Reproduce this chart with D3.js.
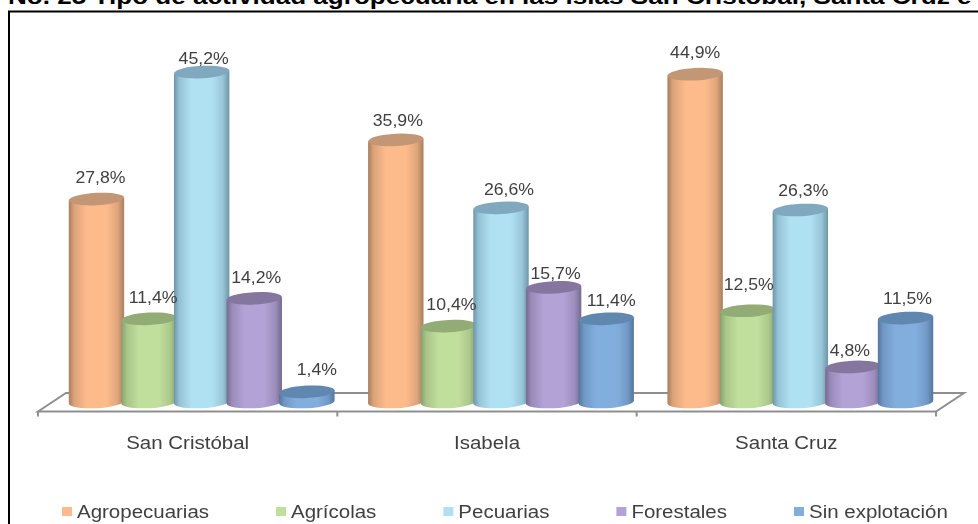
<!DOCTYPE html>
<html><head><meta charset="utf-8">
<script src="https://cdn.jsdelivr.net/npm/d3@7"></script>
<style>html,body{margin:0;padding:0;background:#fff;overflow:hidden}svg{display:block}text{font-family:"Liberation Sans",Arial,sans-serif}</style>
</head><body><svg id="c" width="978" height="524"></svg>
<script>
const titleText = "No. 25 Tipo de actividad agropecuaria en las islas San Cristóbal, Santa Cruz e Isabela";
const islands = ["San Cristóbal", "Isabela", "Santa Cruz"];
const seriesNames = ["Agropecuarias", "Agrícolas", "Pecuarias", "Forestales", "Sin explotación"];
const agropecuarias = [27.8, 35.9, 44.9];
const agricolas = [11.4, 10.4, 12.5];
const pecuarias = [45.2, 26.6, 26.3];
const forestales = [14.2, 15.7, 4.8];
const sinExplotacion = [1.4, 11.4, 11.5];
const seriesValues = [agropecuarias, agricolas, pecuarias, forestales, sinExplotacion];
const bodyColors = ["#fdbb8b", "#c0de9c", "#b0e1f3", "#b2a2d6", "#82aede"];
const edgeColors = ["#a87e60", "#86a06c", "#6d95a8", "#75698f", "#56769c"];
const capColors  = ["#c39675", "#93ab74", "#80a9bf", "#85769f", "#6187b0"];
// label nudges [dx, dy above the cap], per island then per series
const labelNudge = [
  [[4,22],[4,21],[2,14],[2,21],[10,22]],
  [[2,19],[3,22],[8,18],[2,14],[5,18]],
  [[0,22],[1,26],[3,20],[-3,16],[2,20]]
];

const svg = d3.select("#c");
const W = 978, H = 524;
const floorFront = 411.5, floorBack = 393, floorL = 38, floorR = 936, depth = 28;
const x0 = d3.scaleBand().domain(islands).range([floorL, floorR]);
const seriesPos = d3.scalePoint().domain(seriesNames).range([-105.2, 105.2]);
const barShift = 14;
const y = d3.scaleLinear().domain([0, 50]).range([402, 37]);
const rx = 27.7, ry = 6.2, tilt = 3, dl = rx * Math.sin(tilt * Math.PI / 180);

// frame
svg.append("path").attr("d", `M9,${H+5}V11.5H${W+5}`).attr("fill", "none").attr("stroke", "#000").attr("stroke-width", 2);

// title (clipped by the top and right of the picture, as in the source)
svg.append("text").attr("transform", "translate(8,3.5) scale(1.186,1)").attr("font-size", 22).attr("font-weight", "bold").attr("fill", "#000").text(titleText);

const defs = svg.append("defs");
defs.append("filter").attr("id", "soft")
  .attr("filterUnits", "userSpaceOnUse").attr("x", 0).attr("y", 0).attr("width", W).attr("height", H)
  .append("feGaussianBlur").attr("stdDeviation", 0.4);
seriesNames.forEach((s, i) => {
  const g = defs.append("linearGradient").attr("id", "g" + i).attr("x1", 0).attr("x2", 1).attr("y1", 0).attr("y2", 0);
  const mid = d3.interpolateRgb(edgeColors[i], bodyColors[i]);
  [[0, edgeColors[i]], [.1, mid(.6)], [.32, bodyColors[i]], [.68, bodyColors[i]], [.88, mid(.65)], [1, edgeColors[i]]]
    .forEach(([o, c]) => g.append("stop").attr("offset", o).attr("stop-color", c));
});

const chart = svg.append("g").attr("filter", "url(#soft)");

// floor
const floor = chart.append("g").attr("fill", "none").attr("stroke", "#8f8f8f").attr("stroke-width", 2);
floor.append("path").attr("d", `M${floorL},${floorFront}L${floorL+depth},${floorBack}H${floorR+depth}L${floorR},${floorFront}Z`);
const ticks = islands.map(d => x0(d)).concat([floorR]);
floor.selectAll("line").data(ticks).join("line").attr("x1", d => d).attr("x2", d => d).attr("y1", floorFront).attr("y2", floorFront + 5);

// cylinders
islands.forEach((isl, k) => {
  const cx0 = x0(isl) + x0.bandwidth() / 2 + barShift;
  seriesNames.forEach((s, i) => {
    const v = seriesValues[i][k];
    const c = cx0 + seriesPos(s), a = c - rx, b = c + rx, t = y(v), base = y(0);
    const g = chart.append("g");
    g.append("path")
      .attr("d", `M${a},${t+dl}L${a},${base+dl}A${rx},${ry} ${-tilt} 0 0 ${b},${base-dl}L${b},${t-dl}Z`)
      .attr("fill", `url(#g${i})`);
    g.append("ellipse").attr("rx", rx).attr("ry", ry)
      .attr("transform", `translate(${c},${t}) rotate(${-tilt})`).attr("fill", capColors[i]);
  });
});

// value labels
islands.forEach((isl, k) => {
  const cx0 = x0(isl) + x0.bandwidth() / 2 + barShift;
  seriesNames.forEach((s, i) => {
    const v = seriesValues[i][k], n = labelNudge[k][i];
    chart.append("text")
      .attr("transform", `translate(${cx0 + seriesPos(s) + n[0]},${y(v) - n[1] + 5.5}) scale(1.12,1)`)
      .attr("text-anchor", "middle").attr("font-size", 15.8).attr("fill", "#404040")
      .text(v.toFixed(1).replace(".", ",") + "%");
  });
});

// category labels
chart.selectAll("text.cat").data(islands).join("text").attr("class", "cat")
  .attr("transform", d => `translate(${x0(d) + x0.bandwidth() / 2},449) scale(1.12,1)`)
  .attr("text-anchor", "middle").attr("font-size", 18.3).attr("fill", "#404040").text(d => d);

// legend
let lx = 62;
seriesNames.forEach((s, i) => {
  chart.append("rect").attr("x", lx).attr("y", 507).attr("width", 10).attr("height", 9).attr("fill", bodyColors[i]);
  const t = chart.append("text").attr("transform", `translate(${lx + 15},517.5) scale(1.12,1)`)
    .attr("font-size", 18.3).attr("fill", "#404040").text(s);
  lx += 15 + t.node().getComputedTextLength() * 1.12 + 67;
});
</script></body></html>
